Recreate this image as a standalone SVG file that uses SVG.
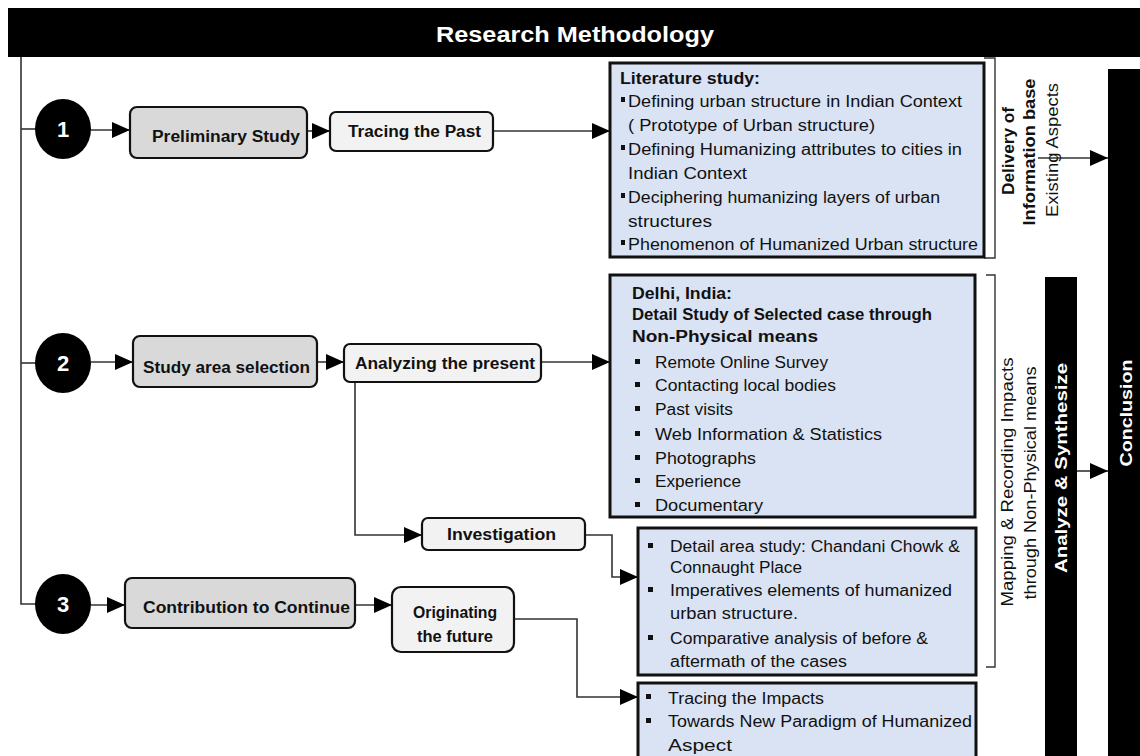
<svg xmlns="http://www.w3.org/2000/svg" width="1140" height="756" viewBox="0 0 1140 756">
<defs>
<marker id="ah" markerUnits="userSpaceOnUse" markerWidth="18" markerHeight="16" refX="18" refY="8" orient="auto">
<path d="M0,0 L18,8 L0,16 z" fill="#000"/>
</marker>
<style>
text{font-family:"Liberation Sans",Arial,sans-serif;fill:#111;}
.b{font-weight:bold;}
.n{font-size:16px;font-weight:bold;}
.t{font-size:16px;}
.w{fill:#fff;font-weight:bold;}
.grey{fill:#d9d9d9;stroke:#111;stroke-width:2.2;}
.light{fill:#f2f2f2;stroke:#111;stroke-width:2.2;}
.info{fill:#dae3f3;stroke:#111;stroke-width:3;}
.circ{fill:#000;}
.con{fill:none;stroke:#333;stroke-width:1.6;}
.arr{marker-end:url(#ah);}
.bar{fill:#000;}
.brk{fill:none;stroke:#333;stroke-width:1.4;}
</style>
</defs>
<rect width="1140" height="756" fill="#fff"/>

<g id="title">
<rect class="bar" x="8" y="8" width="1132" height="49"/>
<text class="w" x="575" y="42" font-size="22" text-anchor="middle" textLength="278" lengthAdjust="spacingAndGlyphs">Research Methodology</text>
</g>

<g id="connectors">
<path class="con" d="M21,57 V604 H35"/>
<path class="con" d="M21,129 H35"/>
<path class="con" d="M21,363 H35"/>
<path class="con arr" d="M91,130 H130"/>
<path class="con arr" d="M307,131 H330"/>
<path class="con arr" d="M493,131 H610"/>
<path class="con arr" d="M91,362 H133"/>
<path class="con arr" d="M317,362 H344"/>
<path class="con arr" d="M541,362 H610"/>
<path class="con arr" d="M355,382 V535 H422"/>
<path class="con arr" d="M585,535 H612 V577 H638"/>
<path class="con arr" d="M91,605 H125"/>
<path class="con arr" d="M355,605 H392"/>
<path class="con arr" d="M514,619 H577 V697 H638"/>
<path class="con arr" d="M1038,158 H1108"/>
<path class="con arr" d="M1077,471 H1108"/>
<path class="brk" d="M984,58 H995 V258 H984"/>
<path class="brk" d="M986,275 H995 V667 H986"/>
</g>

<g id="c1"><ellipse class="circ" cx="63" cy="129" rx="28" ry="30"/><text class="w" x="63" y="137" font-size="22" text-anchor="middle">1</text></g>
<g id="c2"><ellipse class="circ" cx="63" cy="363" rx="28" ry="30"/><text class="w" x="63" y="371" font-size="22" text-anchor="middle">2</text></g>
<g id="c3"><ellipse class="circ" cx="63" cy="604" rx="28" ry="30"/><text class="w" x="63" y="612" font-size="22" text-anchor="middle">3</text></g>

<g id="preliminary"><rect class="grey" x="130" y="107" width="177" height="51" rx="7"/><text class="n" x="152" y="142" textLength="148" lengthAdjust="spacingAndGlyphs">Preliminary Study</text></g>
<g id="tracing"><rect class="light" x="330" y="112" width="163" height="39" rx="6"/><text class="n" x="348" y="137" textLength="133" lengthAdjust="spacingAndGlyphs">Tracing the Past</text></g>
<g id="study"><rect class="grey" x="133" y="336" width="184" height="51" rx="7"/><text class="n" x="143" y="373" textLength="167" lengthAdjust="spacingAndGlyphs">Study area selection</text></g>
<g id="analyzing"><rect class="light" x="344" y="344" width="197" height="38" rx="6"/><text class="n" x="355" y="369" textLength="180" lengthAdjust="spacingAndGlyphs">Analyzing the present</text></g>
<g id="investigation"><rect class="light" x="422" y="518" width="163" height="32" rx="6"/><text class="n" x="447" y="540" textLength="109" lengthAdjust="spacingAndGlyphs">Investigation</text></g>
<g id="contribution"><rect class="grey" x="125" y="578" width="230" height="50" rx="7"/><text class="n" x="143" y="613" textLength="207" lengthAdjust="spacingAndGlyphs">Contribution to Continue</text></g>
<g id="originating"><rect class="light" x="392" y="587" width="122" height="65" rx="9"/><text class="n" x="455" y="618" text-anchor="middle" textLength="84" lengthAdjust="spacingAndGlyphs">Originating</text><text class="n" x="455" y="642" text-anchor="middle" textLength="76" lengthAdjust="spacingAndGlyphs">the future</text></g>

<g id="literature">
<rect class="info" x="610" y="63" width="374" height="194"/>
<text class="t b" x="620" y="84" textLength="140" lengthAdjust="spacingAndGlyphs">Literature study:</text>
<rect x="621" y="97" width="4" height="5" fill="#111"/>
<text class="t" x="628" y="107" textLength="334" lengthAdjust="spacingAndGlyphs">Defining urban structure in Indian Context</text>
<text class="t" x="628" y="131" textLength="247" lengthAdjust="spacingAndGlyphs">( Prototype of Urban structure)</text>
<rect x="621" y="145" width="4" height="5" fill="#111"/>
<text class="t" x="628" y="155" textLength="334" lengthAdjust="spacingAndGlyphs">Defining Humanizing attributes to cities in</text>
<text class="t" x="628" y="179" textLength="119" lengthAdjust="spacingAndGlyphs">Indian Context</text>
<rect x="621" y="193" width="4" height="5" fill="#111"/>
<text class="t" x="628" y="203" textLength="312" lengthAdjust="spacingAndGlyphs">Deciphering humanizing layers of urban</text>
<text class="t" x="628" y="227" textLength="84" lengthAdjust="spacingAndGlyphs">structures</text>
<rect x="621" y="240" width="4" height="5" fill="#111"/>
<text class="t" x="628" y="250" textLength="350" lengthAdjust="spacingAndGlyphs">Phenomenon of Humanized Urban structure</text>
</g>

<g id="delhi">
<rect class="info" x="610" y="275" width="365" height="242"/>
<text class="t b" x="632" y="299" textLength="100" lengthAdjust="spacingAndGlyphs">Delhi, India:</text>
<text class="t b" x="632" y="320" textLength="300" lengthAdjust="spacingAndGlyphs">Detail Study of Selected case through</text>
<text class="t b" x="632" y="342" textLength="186" lengthAdjust="spacingAndGlyphs">Non-Physical means</text>
<rect x="635" y="359" width="5" height="5" fill="#111"/><text class="t" x="655" y="368" textLength="173" lengthAdjust="spacingAndGlyphs">Remote Online Survey</text>
<rect x="635" y="382" width="5" height="5" fill="#111"/><text class="t" x="655" y="391" textLength="181" lengthAdjust="spacingAndGlyphs">Contacting local bodies</text>
<rect x="635" y="406" width="5" height="5" fill="#111"/><text class="t" x="655" y="415" textLength="78" lengthAdjust="spacingAndGlyphs">Past visits</text>
<rect x="635" y="431" width="5" height="5" fill="#111"/><text class="t" x="655" y="440" textLength="227" lengthAdjust="spacingAndGlyphs">Web Information &amp; Statistics</text>
<rect x="635" y="455" width="5" height="5" fill="#111"/><text class="t" x="655" y="464" textLength="101" lengthAdjust="spacingAndGlyphs">Photographs</text>
<rect x="635" y="478" width="5" height="5" fill="#111"/><text class="t" x="655" y="487" textLength="86" lengthAdjust="spacingAndGlyphs">Experience</text>
<rect x="635" y="502" width="5" height="5" fill="#111"/><text class="t" x="655" y="511" textLength="108" lengthAdjust="spacingAndGlyphs">Documentary</text>
</g>

<g id="detail">
<rect class="info" x="638" y="528" width="338" height="147"/>
<rect x="648" y="543" width="5" height="5" fill="#111"/><text class="t" x="670" y="552" textLength="290" lengthAdjust="spacingAndGlyphs">Detail area study: Chandani Chowk &amp;</text>
<text class="t" x="670" y="573" textLength="132" lengthAdjust="spacingAndGlyphs">Connaught Place</text>
<rect x="648" y="587" width="5" height="5" fill="#111"/><text class="t" x="670" y="596" textLength="282" lengthAdjust="spacingAndGlyphs">Imperatives elements of humanized</text>
<text class="t" x="670" y="619" textLength="128" lengthAdjust="spacingAndGlyphs">urban structure.</text>
<rect x="648" y="635" width="5" height="5" fill="#111"/><text class="t" x="670" y="644" textLength="258" lengthAdjust="spacingAndGlyphs">Comparative analysis of before &amp;</text>
<text class="t" x="670" y="667" textLength="177" lengthAdjust="spacingAndGlyphs">aftermath of the cases</text>
</g>

<g id="future">
<rect class="info" x="638" y="683" width="338" height="90"/>
<rect x="646" y="694" width="5" height="5" fill="#111"/><text class="t" x="668" y="704" textLength="156" lengthAdjust="spacingAndGlyphs">Tracing the Impacts</text>
<rect x="646" y="718" width="5" height="5" fill="#111"/><text class="t" x="668" y="727" textLength="304" lengthAdjust="spacingAndGlyphs">Towards New Paradigm  of Humanized</text>
<text class="t" x="668" y="751" textLength="64" lengthAdjust="spacingAndGlyphs">Aspect</text>
</g>

<g id="delivery">
<text class="t b" transform="translate(1008,151) rotate(-90)" text-anchor="middle" dominant-baseline="central" textLength="88" lengthAdjust="spacingAndGlyphs">Delivery of</text>
<text class="t b" transform="translate(1029,152) rotate(-90)" text-anchor="middle" dominant-baseline="central" textLength="147" lengthAdjust="spacingAndGlyphs">Information base</text>
<text class="t" transform="translate(1052,150) rotate(-90)" text-anchor="middle" dominant-baseline="central" textLength="134" lengthAdjust="spacingAndGlyphs">Existing Aspects</text>
</g>

<g id="mapping">
<text class="t" transform="translate(1007,482) rotate(-90)" text-anchor="middle" dominant-baseline="central" textLength="249" lengthAdjust="spacingAndGlyphs">Mapping &amp; Recording Impacts</text>
<text class="t" transform="translate(1030,483) rotate(-90)" text-anchor="middle" dominant-baseline="central" textLength="233" lengthAdjust="spacingAndGlyphs">through Non-Physical means</text>
</g>

<g id="analyze">
<rect class="bar" x="1045" y="277" width="32" height="479"/>
<text class="w" font-size="17" transform="translate(1061,468) rotate(-90)" text-anchor="middle" dominant-baseline="central" textLength="210" lengthAdjust="spacingAndGlyphs">Analyze &amp; Synthesize</text>
</g>

<g id="conclusion">
<rect class="bar" x="1108" y="69" width="32" height="687"/>
<text class="w" font-size="17" transform="translate(1126,413) rotate(-90)" text-anchor="middle" dominant-baseline="central" textLength="107" lengthAdjust="spacingAndGlyphs">Conclusion</text>
</g>
</svg>
